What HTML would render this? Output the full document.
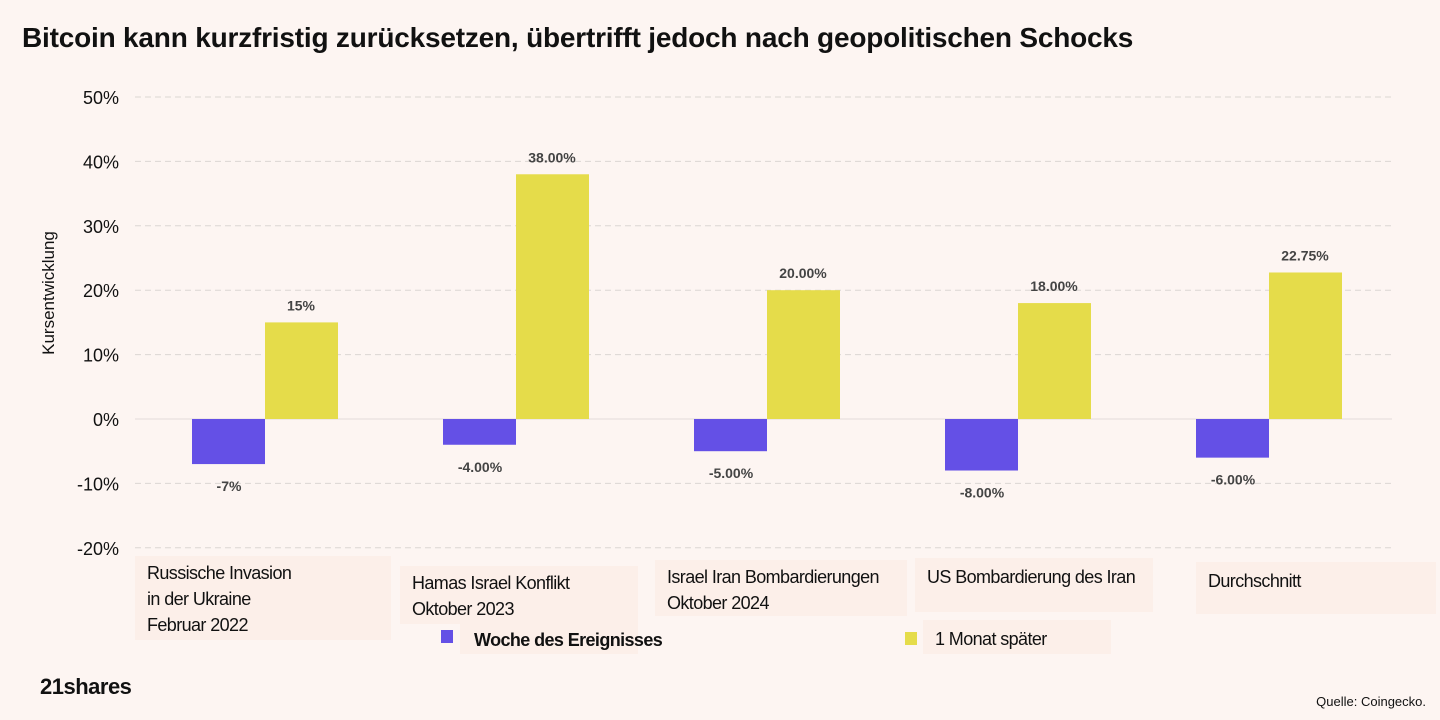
<!DOCTYPE html>
<html><head><meta charset="utf-8"><style>
body{margin:0;background:#fdf5f2;font-family:"Liberation Sans",sans-serif;}
#wrap{position:relative;width:1440px;height:720px;overflow:hidden;background:#fdf5f2;}
.title{position:absolute;left:22px;top:22px;font-size:28px;font-weight:bold;color:#111;letter-spacing:-0.2px;white-space:nowrap;}
.cat{position:absolute;background:#fcefe9;font-size:18px;color:#111;line-height:26px;padding:4px 12px;box-sizing:border-box;white-space:nowrap;letter-spacing:-0.6px;}
.logo{position:absolute;left:40px;top:674px;font-size:22px;font-weight:bold;color:#111;letter-spacing:-0.5px;}
.src{position:absolute;right:14px;top:694px;font-size:13px;color:#111;}
</style></head><body>
<div id="wrap">
<div class="title">Bitcoin kann kurzfristig zurücksetzen, übertrifft jedoch nach geopolitischen Schocks</div>
<svg id="chart" width="1440" height="720" style="position:absolute;left:0;top:0"></svg>
<div class="cat" style="left:135px;top:556px;width:256px;height:84px;line-height:26px">Russische Invasion<br>in der Ukraine<br>Februar 2022</div>
<div class="cat" style="left:400px;top:566px;width:238px;height:58px;line-height:26px">Hamas Israel Konflikt<br>Oktober 2023</div>
<div class="cat" style="left:655px;top:560px;width:252px;height:56px;line-height:26px">Israel Iran Bombardierungen<br>Oktober 2024</div>
<div class="cat" style="left:915px;top:558px;width:238px;height:54px;line-height:22px;padding-top:8px">US Bombardierung des Iran</div>
<div class="cat" style="left:1196px;top:562px;width:240px;height:52px;padding-top:6px">Durchschnitt</div>
<div style="position:absolute;left:441px;top:630px;width:12px;height:13px;background:#6450e6"></div>
<div class="cat" style="left:460px;top:622px;width:178px;height:32px;font-weight:bold;padding:5px 14px">Woche des Ereignisses</div>
<div style="position:absolute;left:905px;top:632px;width:12px;height:13px;background:#e5dc4a"></div>
<div class="cat" style="left:923px;top:620px;width:188px;height:34px;padding:6px 12px;background:#fcefe9">1 Monat später</div>
<div class="logo">21shares</div>
<div class="src">Quelle: Coingecko.</div>
</div>
<script>
const categories=["Russische Invasion in der Ukraine Februar 2022","Hamas Israel Konflikt Oktober 2023","Israel Iran Bombardierungen Oktober 2024","US Bombardierung des Iran","Durchschnitt"];
const weekValues=[-7,-4,-5,-8,-6];
const monthValues=[15,38,20,18,22.75];
const weekLabels=["-7%","-4.00%","-5.00%","-8.00%","-6.00%"];
const monthLabels=["15%","38.00%","20.00%","18.00%","22.75%"];
const yTicks=[50,40,30,20,10,0,-10,-20];
const NS="http://www.w3.org/2000/svg";
const svg=document.getElementById('chart');
const y=v=>419-v*6.44;
const gx=i=>265+i*251;
function mk(t,a){const e=document.createElementNS(NS,t);for(const k in a)e.setAttribute(k,a[k]);svg.appendChild(e);return e;}
yTicks.forEach(t=>{
 const l=mk('line',{x1:135,x2:1392,y1:y(t),y2:y(t),stroke:t===0?'#e2dcd9':'#dcd6d3','stroke-width':1,'stroke-dasharray':t===0?'':'6,4'});
 
 
 const tx=mk('text',{x:119,y:y(t)+7,'text-anchor':'end','font-size':18,fill:'#111'});
 tx.textContent=t+'%';
 
 
});
const yt=mk('text',{transform:'translate(54,293) rotate(-90)','text-anchor':'middle','font-size':17,fill:'#111'});
yt.textContent='Kursentwicklung';


categories.forEach((c,i)=>{
 const w=weekValues[i],m=monthValues[i];
 const b1=mk('rect',{x:gx(i)-73,y:Math.min(y(0),y(w)),width:73,height:Math.abs(y(w)-y(0)),fill:'#6450e6'});
 
 
 const b2=mk('rect',{x:gx(i),y:Math.min(y(0),y(m)),width:73,height:Math.abs(y(m)-y(0)),fill:'#e5dc4a'});
 
 
 const t1=mk('text',{x:gx(i)-36,y:y(w)+27,'text-anchor':'middle','font-size':14,'font-weight':'bold',fill:'#444'});
 t1.textContent=weekLabels[i];
 
 
 const t2=mk('text',{x:gx(i)+36,y:y(m)-12,'text-anchor':'middle','font-size':14,'font-weight':'bold',fill:'#444'});
 t2.textContent=monthLabels[i];
 
 
});
</script>
</body></html>
